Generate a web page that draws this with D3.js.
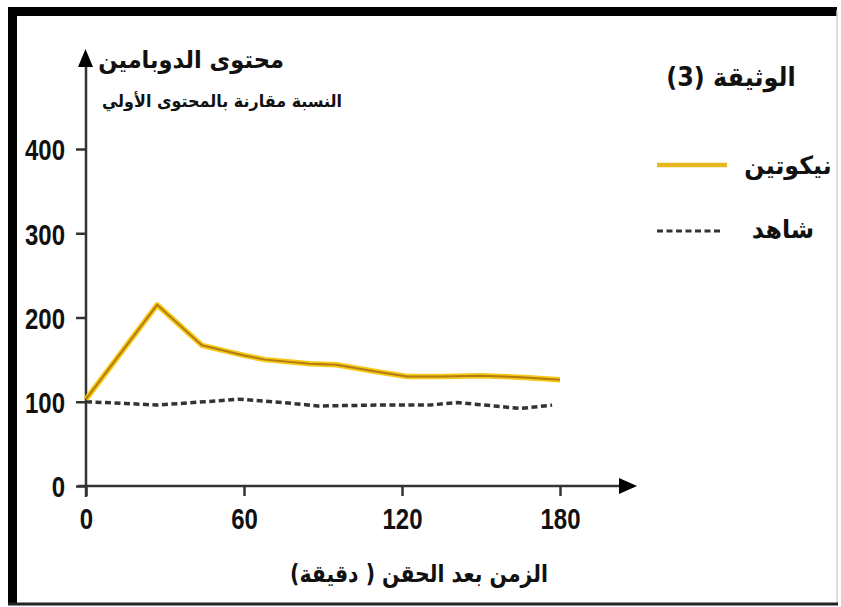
<!DOCTYPE html>
<html><head><meta charset="utf-8">
<script src="https://cdn.jsdelivr.net/npm/d3@7"></script>
<style>html,body{margin:0;padding:0;background:#fff}svg{display:block}</style>
</head><body>
<svg id="c" width="841" height="607"></svg>
<script>
const xTicks = [0, 60, 120, 180];
const yTicks = [0, 100, 200, 300, 400];
const nicotineTime  = [0, 27, 44, 60, 68, 85, 95, 110, 122, 135, 150, 165, 180];
const nicotineValue = [103, 215, 167, 155, 150, 145, 144, 136, 130, 130, 131, 129, 126];
const controlTime   = [0, 15, 27, 45, 58, 75, 88, 110, 130, 141, 155, 165, 177];
const controlValue  = [100, 98, 96, 100, 103, 99, 95, 96, 96, 99, 95, 92, 96];
const yTitle = "محتوى الدوبامين";
const ySubtitle = "النسبة مقارنة بالمحتوى الأولي";
const xTitle = "الزمن بعد الحقن ( دقيقة)";
const docTitle = "الوثيقة (3)";
const legendNames = ["نيكوتين", "شاهد"];

const svg = d3.select("#c");
const x = d3.scaleLinear().domain([0, 180]).range([86, 560]);
const y = d3.scaleLinear().domain([0, 400]).range([486, 149]);
const numFont = "'Liberation Sans','Arial',sans-serif";
const arFont = "'DejaVu Sans',sans-serif";
const sx = 0.8;

// frame
svg.append("rect").attr("x",8).attr("y",7).attr("width",9).attr("height",597).attr("fill","#000");
svg.append("rect").attr("x",8).attr("y",7).attr("width",829).attr("height",9).attr("fill","#000");
svg.append("line").attr("x1",837).attr("x2",837).attr("y1",10).attr("y2",604).attr("stroke","#cfcfcf").attr("stroke-width",1.5);
svg.append("line").attr("x1",8).attr("x2",838).attr("y1",604).attr("y2",604).attr("stroke","#222").attr("stroke-width",3);

const g = svg.append("g");
// axes
const xAxis = d3.axisBottom(x).tickValues(xTicks).tickSize(10).tickPadding(11);
const yAxis = d3.axisLeft(y).tickValues(yTicks).tickSize(10).tickPadding(11);
const gx = g.append("g").attr("transform","translate(0,486)").call(xAxis);
const gy = g.append("g").attr("transform","translate(86,0)").call(yAxis);
[gx, gy].forEach(a => {
  a.select(".domain").remove();
  a.selectAll(".tick line").attr("stroke","#333").attr("stroke-width",2.5);
  a.selectAll(".tick text").attr("fill","#111").attr("font-family",numFont)
    .attr("font-weight","bold").attr("font-size",30)
    .attr("transform",`scale(${sx},1)`);
});
gy.selectAll(".tick text").attr("x", -21/sx).attr("dy","0.36em");
gx.selectAll(".tick text").attr("dy","0.72em");
// axis lines with arrows
g.append("line").attr("x1",78).attr("x2",624).attr("y1",486).attr("y2",486).attr("stroke","#333").attr("stroke-width",2.5);
g.append("line").attr("x1",86).attr("x2",86).attr("y1",497).attr("y2",62).attr("stroke","#333").attr("stroke-width",2.5);
g.append("path").attr("d","M637,486 L619,478 L619,494 Z").attr("fill","#000");
g.append("path").attr("d","M85.5,49 L78,67 L93,67 Z").attr("fill","#000");

// lines
const nic = nicotineTime.map((t,i)=>[t, nicotineValue[i]]);
const ctl = controlTime.map((t,i)=>[t, controlValue[i]]);
const line = d3.line().x(d=>x(d[0])).y(d=>y(d[1]));
g.append("path").attr("d", line(ctl)).attr("fill","none").attr("stroke","#333")
  .attr("stroke-width",3.5).attr("stroke-dasharray","6,3.5");
g.append("path").attr("d", line(nic)).attr("fill","none").attr("stroke","#f5c400")
  .attr("stroke-width",5.5).attr("stroke-linejoin","round").attr("opacity",0.9);
g.append("path").attr("d", line(nic)).attr("fill","none").attr("stroke","#b47a12")
  .attr("stroke-width",2).attr("stroke-linejoin","round");

// texts
function ar(xp, yp, size, txt, scx) {
  const s = scx || 1;
  svg.append("text").attr("x",xp/s).attr("y",yp).attr("text-anchor","middle").attr("direction","rtl")
    .attr("transform",`scale(${s},1)`)
    .attr("font-family",arFont).attr("font-weight","bold").attr("font-size",size).attr("fill","#111").text(txt);
}
ar(191, 68, 24, yTitle, 0.94);
ar(222, 107, 17, ySubtitle, 0.94);
ar(419, 582, 24, xTitle, 0.85);
ar(731, 86, 26, docTitle, 0.92);

// legend
svg.append("line").attr("x1",657).attr("x2",727).attr("y1",165).attr("y2",165)
  .attr("stroke","#e8b820").attr("stroke-width",4.5);
ar(788, 174, 25, legendNames[0], 0.95);
svg.append("line").attr("x1",657).attr("x2",721).attr("y1",231).attr("y2",231)
  .attr("stroke","#333").attr("stroke-width",3).attr("stroke-dasharray","6,3.5");
ar(783, 238, 25, legendNames[1], 0.95);
</script>
</body></html>
